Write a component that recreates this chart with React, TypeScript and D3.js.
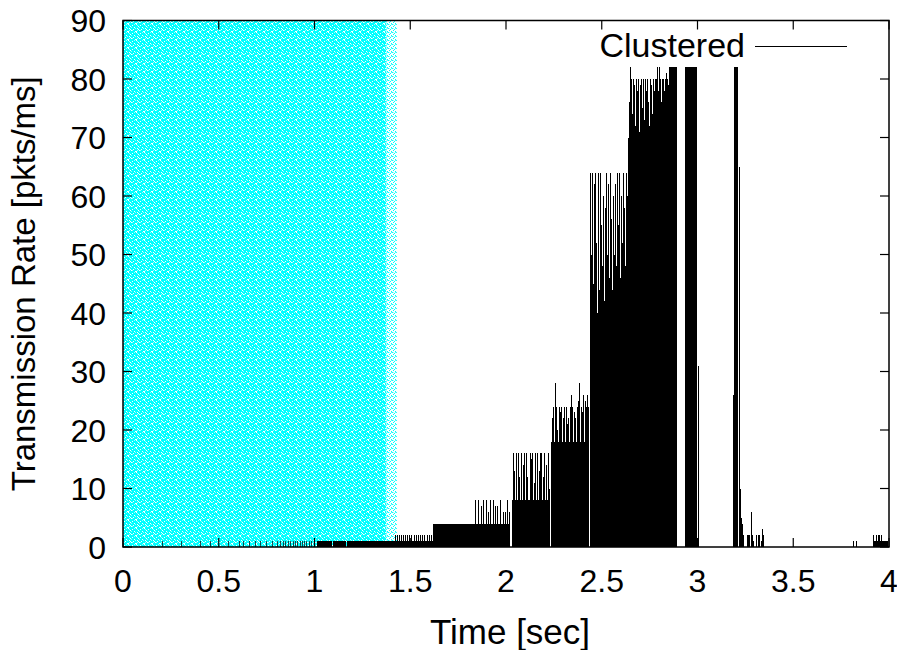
import React from "react";
import * as d3 from "d3";

// ---------- data ----------
const xTicks = [0, 0.5, 1, 1.5, 2, 2.5, 3, 3.5, 4];
const xTickLabels = ["0", "0.5", "1", "1.5", "2", "2.5", "3", "3.5", "4"];
const yTicks = [0, 10, 20, 30, 40, 50, 60, 70, 80, 90];
const seriesName = "Clustered";

// highlighted (cyan) period, seconds
const shadeSpan = [0, 1.375];
const shadeFade = [1.375, 1.43];

// sustained transmission runs: start [s], end [s], rate [pkts/ms]
const runStart = [1.013, 1.095, 1.17, 1.375, 1.619, 2.031, 2.235, 2.438, 2.637, 2.851, 2.935, 3.188, 3.916];
const runEnd = [1.09, 1.165, 1.375, 1.619, 2.021, 2.23, 2.433, 2.637, 2.893, 2.893, 2.997, 3.214, 3.997];
const runRate = [1, 1, 1, 1, 4, 8, 18, 36, 70, 82, 82, 82, 1];

// individual impulses: time [s], rate [pkts/ms]
const earlyTimes = [0.204, 0.303, 0.402, 0.454, 0.548, 0.606, 0.627, 0.658, 0.689, 0.715, 0.747, 0.778, 0.804, 0.82, 0.836, 0.846, 0.862, 0.872, 0.888, 0.898, 0.909, 0.924, 0.935, 0.945, 0.956, 0.971, 0.982, 0.997];
const earlyRates = [1, 1, 1, 1, 1, 1, 1, 1, 1, 1, 1, 1, 1, 1, 1, 1, 1, 1, 1, 1, 1, 1, 1, 1, 1, 1, 1, 1];

const slowTimes = [1.42, 1.431, 1.441, 1.452, 1.462, 1.473, 1.483, 1.493, 1.504, 1.52, 1.53, 1.54, 1.551, 1.561, 1.572, 1.587, 1.598, 1.608];
const slowRates = [2, 2, 2, 2, 2, 2, 2, 2, 2, 2, 2, 2, 2, 2, 2, 2, 2, 2];

const step4Times = [1.838, 1.854, 1.869, 1.88, 1.896, 1.906, 1.916, 1.932, 1.943, 1.953, 1.969, 1.984, 1.995, 2.005, 2.016];
const step4Rates = [8, 8, 7, 8, 8, 6, 8, 8, 7, 7, 8, 6, 6, 8, 6];

const step8Times = [2.037, 2.042, 2.052, 2.063, 2.07, 2.078, 2.089, 2.094, 2.104, 2.112, 2.123, 2.131, 2.136, 2.144, 2.151, 2.162, 2.17, 2.175, 2.183, 2.193, 2.198, 2.209, 2.217, 2.225];
const step8Rates = [16, 13, 16, 16, 12, 16, 14, 16, 16, 12, 16, 15, 16, 11, 16, 16, 13, 16, 16, 12, 16, 14, 16, 10];

const step18Times = [2.24, 2.245, 2.256, 2.261, 2.266, 2.277, 2.282, 2.287, 2.298, 2.303, 2.313, 2.319, 2.324, 2.334, 2.34, 2.345, 2.355, 2.36, 2.371, 2.376, 2.381, 2.392, 2.397, 2.402, 2.413, 2.418, 2.423, 2.428];
const step18Rates = [22, 24, 28, 24, 20, 24, 23, 24, 22, 24, 24, 21, 22, 24, 26, 24, 23, 22, 24, 25, 28, 24, 23, 26, 25, 24, 26, 24];

const step36Times = [2.439, 2.444, 2.449, 2.454, 2.46, 2.465, 2.47, 2.475, 2.48, 2.486, 2.491, 2.496, 2.501, 2.507, 2.512, 2.517, 2.522, 2.527, 2.533, 2.538, 2.543, 2.548, 2.554, 2.559, 2.564, 2.569, 2.574, 2.58, 2.585, 2.59, 2.595, 2.601, 2.606, 2.611, 2.616, 2.621, 2.627, 2.632];
const step36Rates = [64, 50, 64, 45, 62, 64, 52, 40, 64, 44, 64, 55, 48, 60, 42, 58, 64, 50, 62, 46, 64, 56, 44, 60, 50, 62, 48, 64, 55, 64, 46, 60, 52, 64, 58, 48, 64, 60];

const peakTimes = [2.642, 2.648, 2.653, 2.658, 2.663, 2.668, 2.674, 2.679, 2.684, 2.689, 2.695, 2.7, 2.705, 2.71, 2.715, 2.721, 2.726, 2.731, 2.736, 2.742, 2.747, 2.752, 2.757, 2.762, 2.768, 2.773, 2.778, 2.783, 2.789, 2.794, 2.799, 2.804, 2.809, 2.815, 2.82, 2.825, 2.83, 2.836, 2.841, 2.846];
const peakRates = [76, 82, 80, 74, 80, 79, 72, 80, 78, 80, 71, 79, 80, 75, 80, 73, 80, 78, 80, 76, 72, 80, 79, 74, 80, 78, 80, 80, 82, 78, 82, 80, 76, 80, 80, 78, 80, 81, 80, 79];

const tailTimes = [3.0, 3.005, 3.185, 3.215, 3.218, 3.222, 3.225, 3.23, 3.236, 3.239, 3.257, 3.265, 3.27, 3.279, 3.283, 3.291, 3.305, 3.314, 3.322, 3.33, 3.338, 3.343, 3.81, 3.828, 3.918, 3.932, 3.94, 3.948, 3.956];
const tailRates = [31, 2, 26, 65, 62, 10, 5, 4, 2, 1, 2, 2, 2, 6, 2, 1, 2, 2, 2, 1, 3, 2, 1, 1, 2, 2, 2, 2, 2];

// ---------- layout ----------
const W = 897;
const H = 650;
const PL = 123;
const PR = 889;
const PT = 20.5;
const PB = 547;
const FONT = "'Liberation Sans', Arial, Helvetica, sans-serif";
const TICK = 9;

export default function App() {
  const x = d3.scaleLinear().domain([0, 4]).range([PL, PR]);
  const y = d3.scaleLinear().domain([0, 90]).range([PB, PT]);

  const impulseTimes = [
    ...earlyTimes, ...slowTimes, ...step4Times, ...step8Times,
    ...step18Times, ...step36Times, ...peakTimes, ...tailTimes,
  ];
  const impulseRates = [
    ...earlyRates, ...slowRates, ...step4Rates, ...step8Rates,
    ...step18Rates, ...step36Rates, ...peakRates, ...tailRates,
  ];
  const snap = (v: number) => Math.round(v) + 0.5;

  // fixed speckle layout of the dithered fill tile (styling only)
  const speckA = [[0, 0], [4, 1], [2, 2], [6, 3], [1, 4], [5, 5], [3, 6], [0, 7], [7, 7], [2, 5]];
  const speckB = [[1, 1], [6, 0], [3, 3], [7, 4], [4, 6], [1, 6]];

  return (
    <svg
      width={W}
      height={H}
      style={{ position: "absolute", left: 0, top: 0, background: "#fff" }}
      fontFamily={FONT}
    >
      <defs>
        <pattern id="cyanNoise" patternUnits="userSpaceOnUse" width="8" height="8">
          <rect width="8" height="8" fill="#00ffff" />
          {speckA.map(([a, b], i) => (
            <rect key={"a" + i} x={a} y={b} width="1" height="1" fill="#ffffff" />
          ))}
          {speckB.map(([a, b], i) => (
            <rect key={"b" + i} x={a} y={b} width="1" height="1" fill="#9ffcfc" />
          ))}
        </pattern>
        <pattern id="cyanFade" patternUnits="userSpaceOnUse" width="4" height="4">
          <rect x="0" y="0" width="1" height="1" fill="#00ffff" />
          <rect x="2" y="1" width="1" height="1" fill="#00ffff" />
          <rect x="1" y="2" width="1" height="1" fill="#00ffff" />
          <rect x="3" y="3" width="1" height="1" fill="#00ffff" />
          <rect x="3" y="0" width="1" height="1" fill="#60ffff" />
          <rect x="1" y="0" width="1" height="1" fill="#a0ffff" />
        </pattern>
      </defs>

      {/* highlighted period */}
      <rect
        x={x(shadeSpan[0])}
        y={y(90)}
        width={x(shadeSpan[1]) - x(shadeSpan[0])}
        height={y(0) - y(90)}
        fill="url(#cyanNoise)"
      />
      <rect
        x={x(shadeFade[0])}
        y={y(90)}
        width={x(shadeFade[1]) - x(shadeFade[0])}
        height={y(0) - y(90)}
        fill="url(#cyanFade)"
      />

      {/* sustained runs */}
      <g shapeRendering="crispEdges">
        {runStart.map((s, i) => (
          <rect
            key={"r" + i}
            x={x(s)}
            y={y(runRate[i])}
            width={x(runEnd[i]) - x(s)}
            height={y(0) - y(runRate[i])}
            fill="#000"
          />
        ))}
      </g>

      {/* impulses */}
      <g stroke="#000" strokeWidth={1} shapeRendering="crispEdges">
        {impulseTimes.map((t, i) => (
          <line
            key={"p" + i}
            x1={snap(x(t))}
            x2={snap(x(t))}
            y1={y(0)}
            y2={y(impulseRates[i])}
            strokeOpacity={t < shadeSpan[1] ? 0.7 : 1}
          />
        ))}
      </g>

      {/* frame */}
      <rect
        x={PL}
        y={PT}
        width={PR - PL}
        height={PB - PT}
        fill="none"
        stroke="#000"
        strokeWidth={1.5}
      />

      {/* ticks */}
      <g stroke="#000" strokeWidth={1.2}>
        {xTicks.map((t, i) => (
          <g key={"xt" + i}>
            <line x1={x(t)} x2={x(t)} y1={PB} y2={PB - TICK} />
            <line x1={x(t)} x2={x(t)} y1={PT} y2={PT + TICK} />
          </g>
        ))}
        {yTicks.map((v, i) => (
          <g key={"yt" + i}>
            <line x1={PL} x2={PL + TICK} y1={y(v)} y2={y(v)} />
            <line x1={PR} x2={PR - TICK} y1={y(v)} y2={y(v)} />
          </g>
        ))}
      </g>

      {/* tick labels */}
      <g fontSize={32} fill="#000">
        {xTicks.map((t, i) => (
          <text key={"xl" + i} x={x(t)} y={592} textAnchor="middle">
            {xTickLabels[i]}
          </text>
        ))}
        {yTicks.map((v, i) => (
          <text key={"yl" + i} x={106} y={y(v)} dy="0.36em" textAnchor="end">
            {String(v)}
          </text>
        ))}
      </g>

      {/* axis titles */}
      <text x={(PL + PR) / 2 + 4} y={644} fontSize={35} textAnchor="middle" fill="#000">
        Time [sec]
      </text>
      <text
        transform={`translate(35, ${(PT + PB) / 2}) rotate(-90)`}
        fontSize={33}
        textAnchor="middle"
        fill="#000"
      >
        Transmission Rate [pkts/ms]
      </text>

      {/* legend */}
      <text x={745} y={57} fontSize={34} textAnchor="end" fill="#000">
        {seriesName}
      </text>
      <line x1={755} x2={847} y1={46.5} y2={46.5} stroke="#000" strokeWidth={1} />
    </svg>
  );
}
